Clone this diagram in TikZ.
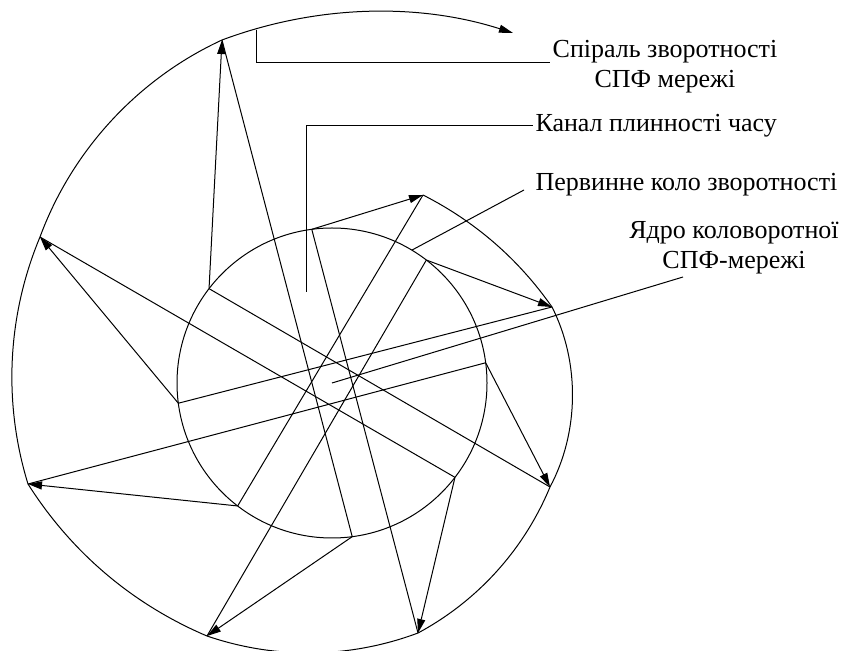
\documentclass[tikz,border=0pt]{standalone}
\usepackage{fontspec}
\setmainfont{Liberation Serif}
\usetikzlibrary{arrows.meta}

\begin{document}
\begin{tikzpicture}[x=1pt, y=1pt, line width=1pt,
        freccia/.style={-{Triangle[length=14pt, width=8pt]}},
        etichetta/.style={font=\fontsize{26}{30}\selectfont, inner sep=2pt, align=center}]

        \useasboundingbox (0,0) rectangle (842,650);

        % --- Cerchio primario ---
        \coordinate (c) at (332,267);
        \draw (c) circle (155);

        % --- Punti sul cerchio (ogni 45 gradi) ---
        \foreach \k in {0,...,7} {
            \path (c) ++({97.5-45*\k}:155) coordinate (i\k);
        }

        % --- Punti sulla spirale ---
        \foreach \k/\x/\y in {0/423/455, 1/552/343, 2/550/163, 3/418/17, 4/207/14,
                              5/28/166, 6/40/413, 7/222/610, 8/513/617} {
            \coordinate (s\k) at (\x,\y);
        }

        % --- Spirale (archi da un punto al successivo) ---
        \draw[freccia, looseness=0.88] (s0) to[bend left=14] (s1)
            to[bend left=27.5] (s2) to[bend left=19.6] (s3)
            to[bend left=19.7] (s4) to[bend left=17.3] (s5)
            to[bend left=19.9] (s6) to[bend left=22.5] (s7)
            to[bend left=19.1] (s8);

        % --- Frecce dal cerchio alla spirale ---
        \foreach \k in {0,...,7} {
            \draw[freccia] (i\k) -- (s\k);
        }

        % --- Linee dalla spirale attraverso il nucleo ---
        \foreach \k in {0,...,7} {
            \pgfmathtruncatemacro{\j}{mod(\k+5,8)}
            \draw (s\k) -- (i\j);
        }

        % --- Etichette ---
        \node[etichetta] (spirale) at (665,583) {Спіраль зворотності\\СПФ мережі};
        \node[etichetta, anchor=west] (canale) at (533,524) {Канал плинності часу};
        \node[etichetta, anchor=west] (primario) at (533,465) {Первинне коло зворотності};
        \node[etichetta] (nucleo) at (734,402) {Ядро коловоротної\\СПФ-мережі};

        % --- Linee di richiamo ---
        \coordinate (sp) at (256,620);
        \draw (sp) |- ([yshift=4]spirale.west);
        \coordinate (ch) at (306,358);
        \draw (ch) |- (canale.west);
        \path (c) ++(59:155) coordinate (pr);
        \coordinate (prFine) at (524,460);
        \draw (pr) -- (prFine);
        \coordinate (nuFine) at (683,373);
        \draw (c) -- (nuFine);

    \end{tikzpicture}
\end{document}
